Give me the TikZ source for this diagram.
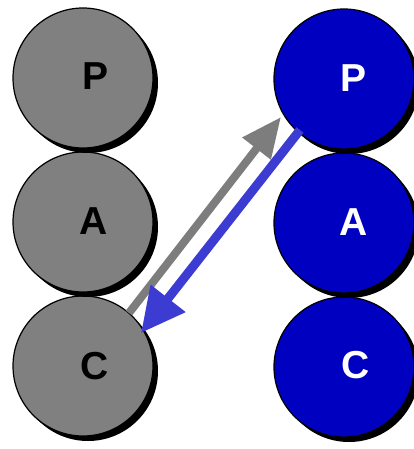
\documentclass[tikz,border=0pt]{standalone}
\usepackage{fontspec}
\setmainfont{Liberation Sans}
\usetikzlibrary{arrows.meta}
\definecolor{cgray}{RGB}{128,128,128}
\definecolor{cblue}{RGB}{0,0,192}
\definecolor{ablue}{RGB}{60,60,210}
\definecolor{agray}{RGB}{125,125,125}
\begin{document}
\begin{tikzpicture}[x=1pt,y=-1pt,
  ball/.style={circle,draw=black,line width=1.2pt,minimum size=140pt,inner sep=0pt,outer sep=0pt},
  grayball/.style={ball,fill=cgray},
  blueball/.style={ball,fill=cblue},
  shade/.style={circle,fill=black,minimum size=140pt,inner sep=0pt},
  lbl/.style={font=\bfseries\fontsize{39}{39}\selectfont,inner sep=0pt},
  garrow/.style={draw=agray,line width=8pt,-{Triangle[length=40pt,width=34pt]}},
  barrow/.style={draw=ablue,line width=9pt,-{Triangle[length=44pt,width=42pt]}}]
\useasboundingbox (0,0) rectangle (414,449);
\fill[white] (0,0) rectangle (414,449);
% left column
\foreach \y/\n in {366/lc,222/la,78/lp}{
  \node[shade] at (88,\y+5) {};
  \node[grayball] (\n) at (83,\y) {};
}
% right column
\foreach \y/\n in {367/rc,223/ra,79/rp}{
  \node[shade] at (349,\y+5) {};
  \node[blueball] (\n) at (344,\y) {};
}
\node[lbl,text=black] (tlp) at (96,76) {P};
\node[lbl,text=black] (tla) at (94,221) {A};
\node[lbl,text=black] (tlc) at (95,366) {C};
\node[lbl,text=white] (trp) at (354,78) {P};
\node[lbl,text=white] (tra) at (354,222) {A};
\node[lbl,text=white] (trc) at (356,365) {C};
% arrows
\coordinate (gt) at (129,313);
\coordinate (gh) at (281,117);
\coordinate (bt) at (300,130);
\coordinate (bh) at (141,333);
\draw[garrow] (gt) -- (gh);
\draw[barrow] (bt) -- (bh);
\end{tikzpicture}
\end{document}
